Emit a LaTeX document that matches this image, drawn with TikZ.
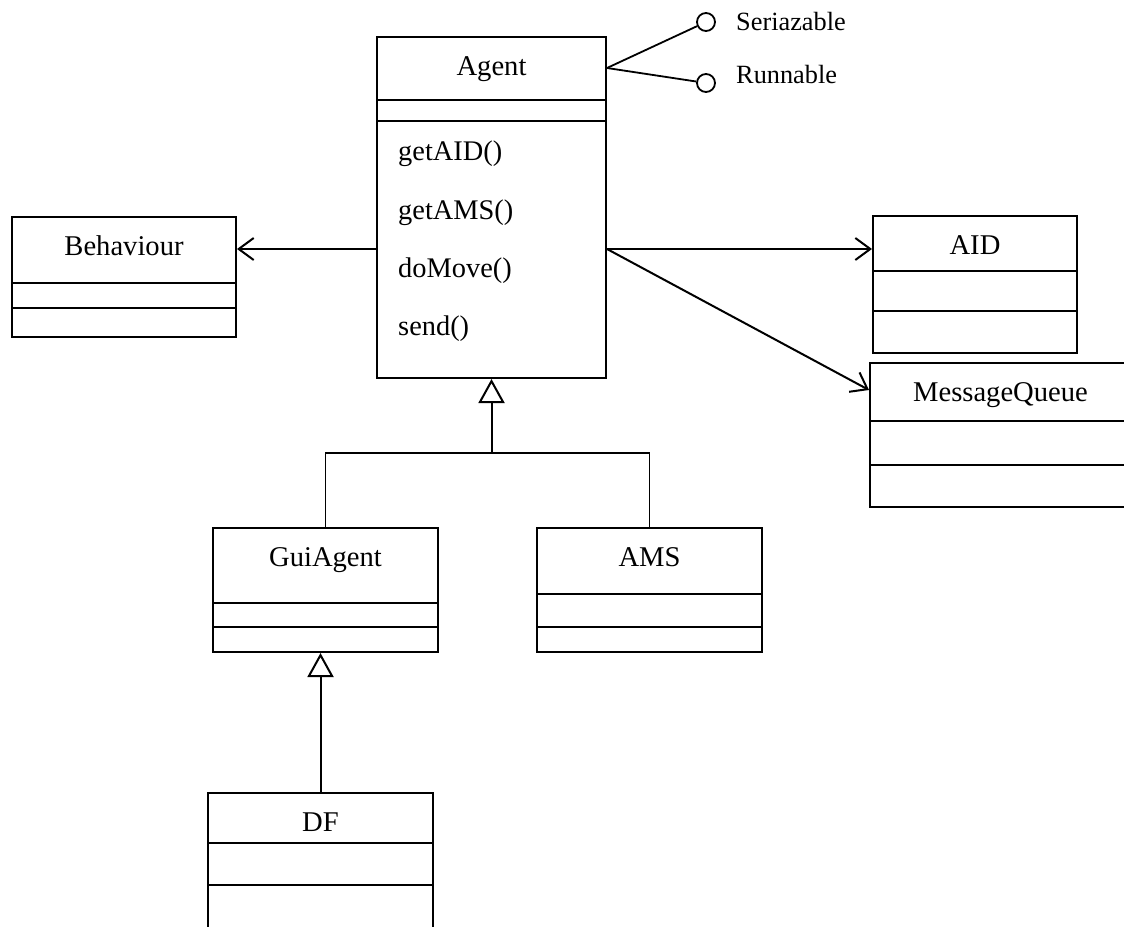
\documentclass[tikz,border=0pt]{standalone}
\usepackage{fontspec}
\setmainfont{Liberation Serif}
\usetikzlibrary{arrows.meta,fit}

% A UML class box with a name compartment and two empty compartments:
% #1 name, #2 left, #3 top, #4 right, #5 bottom, #6/#7 separator rows, #8 class name
\newcommand\umlclass[8]{%
  \node[classbox, fit={(#2,#3) (#4,#5)}] (#1) {};
  \draw[boxline] (#2,#6) -- (#4,#6);
  \draw[boxline] (#2,#7) -- (#4,#7);
  \node[classname] (#1-name) at ({(#2+#4)/2},{#3+38}) {#8};
}

\tikzset{
  x=1pt, y=-1pt,
  boxline/.style={line width=2pt},
  classbox/.style={draw, line width=2pt, inner sep=0pt, rectangle},
  classname/.style={anchor=base, inner sep=0pt, font=\fontsize{28.6pt}{34pt}\selectfont},
  operation/.style={anchor=base west, inner sep=0pt, font=\fontsize{28.4pt}{34pt}\selectfont},
  ifacelabel/.style={anchor=base west, inner sep=0pt, font=\fontsize{26.3pt}{32pt}\selectfont},
  iface/.style={draw, circle, line width=1.8pt, minimum size=18pt, inner sep=0pt},
  assoc/.style={line width=2pt, -{Straight Barb[length=15pt,width=22pt,line width=2pt]}},
  realize/.style={line width=1.8pt},
  gen/.style={line width=2pt, -{Triangle[open,length=24pt,width=26pt,line width=2pt]}},
}

\begin{document}
\begin{tikzpicture}
\useasboundingbox (0,0) rectangle (1124,926);
\clip (0,0) rectangle (1124,926);

% classes
\umlclass{agent}{377}{37}{606}{378}{100}{121}{Agent}
\umlclass{behav}{12}{217}{236}{337}{283}{308}{Behaviour}
\umlclass{aid}{873}{216}{1077}{353}{271}{311}{AID}
\umlclass{mq}{870}{363}{1131}{507}{421}{465}{MessageQueue}
\umlclass{gui}{213}{528}{438}{652}{603}{627}{GuiAgent}
\umlclass{ams}{537}{528}{762}{652}{594}{627}{AMS}
\umlclass{df}{208}{793}{433}{940}{843}{885}{DF}

% operations of Agent
\node[operation] (op1) at (398,160) {getAID()};
\node[operation] (op2) at (398,219) {getAMS()};
\node[operation] (op3) at (398,277) {doMove()};
\node[operation] (op4) at (398,335) {send()};

% provided interfaces
\node[iface] (ser) at (706,22) {};
\node[iface] (run) at (706,83) {};
\node[ifacelabel] (ser-l) at (736,30) {Seriazable};
\node[ifacelabel] (run-l) at (736,83) {Runnable};
\coordinate (agent-i) at ([yshift=-32pt]agent.north east);
\draw[realize] (agent-i) -- (ser);
\draw[realize] (agent-i) -- (run);

% associations
\coordinate (agent-l) at ([yshift=-213pt]agent.north west);
\coordinate (agent-r) at ([yshift=-213pt]agent.north east);
\draw[assoc] (agent-l) -- (agent-l -| behav.east);
\draw[assoc] (agent-r) -- (agent-r -| aid.west);
\draw[assoc] (agent-r) -- ([yshift=-28pt]mq.north west);

% generalizations
\coordinate (junc) at (agent.south |- 0,453);
\draw[realize] (gui.north) |- (junc) -| (ams.north);
\draw[gen] (junc) -- (agent.south);
\draw[gen] (df.north) -- (df.north |- gui.south);
\end{tikzpicture}
\end{document}
